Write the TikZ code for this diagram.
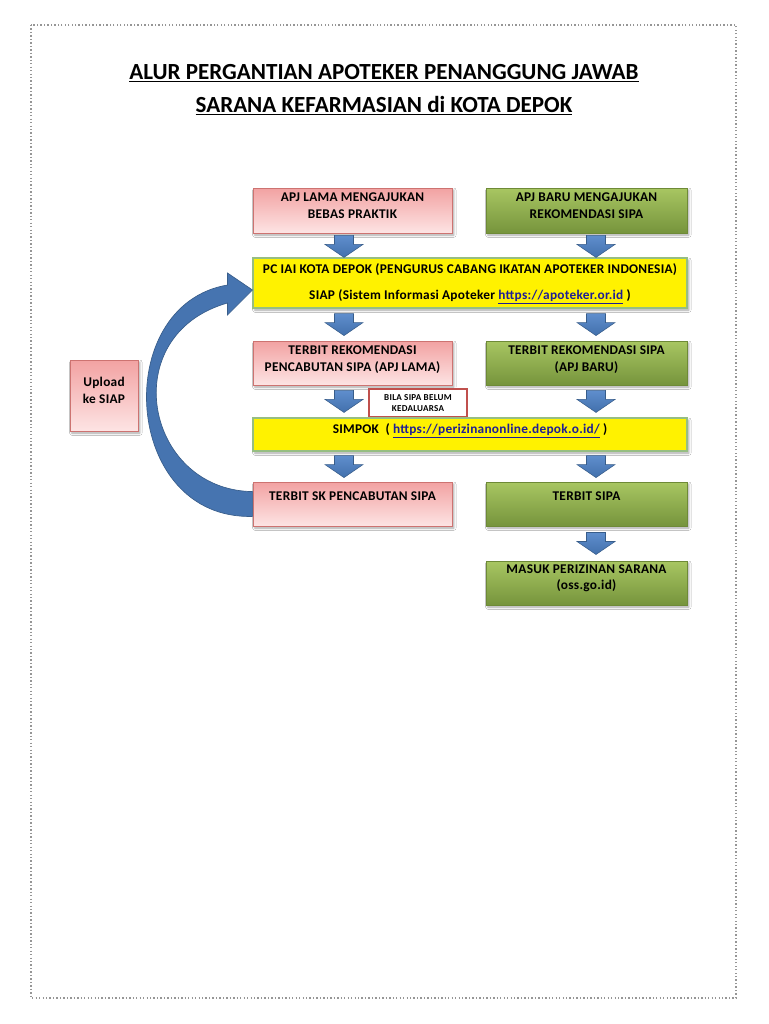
\documentclass[tikz,border=0pt]{standalone}
\usepackage{fontspec}
\setmainfont{Carlito}
\usetikzlibrary{calc,fit,shadows.blur}
\definecolor{pinkT}{RGB}{242,162,162}
\definecolor{pinkB}{RGB}{253,228,228}
\definecolor{pinkD}{RGB}{205,115,113}
\definecolor{greenT}{RGB}{168,198,98}
\definecolor{greenB}{RGB}{118,148,60}
\definecolor{greenD}{RGB}{110,138,55}
\definecolor{yelD}{RGB}{150,190,130}
\definecolor{arrT}{RGB}{95,142,205}
\definecolor{arrB}{RGB}{66,112,172}
\definecolor{arrD}{RGB}{56,93,138}
\definecolor{curvC}{RGB}{70,116,176}
\definecolor{linkC}{RGB}{30,30,150}
\definecolor{redD}{RGB}{192,80,77}
\definecolor{bordG}{RGB}{150,150,150}
\tikzset{
  shad/.style={blur shadow={shadow xshift=1.4pt,shadow yshift=-1.6pt,shadow blur radius=1.6pt,shadow opacity=35}},
  pinkbox/.style={inner sep=0pt,shad,top color=pinkT,bottom color=pinkB,draw=pinkD,line width=0.6pt},
  greenbox/.style={inner sep=0pt,shad,top color=greenT,bottom color=greenB,draw=greenD,line width=0.6pt},
  yelbox/.style={inner sep=0pt,shad,fill=yellow,draw=yelD,line width=0.8pt},
  notebox/.style={inner sep=0pt,fill=white,draw=redD,line width=1.1pt},
  btxt/.style={font=\fontsize{10}{12.5}\selectfont\bfseries\addfontfeatures{LetterSpace=2},align=center,inner sep=0pt},
  stxt/.style={font=\fontsize{6.8}{8.2}\selectfont\bfseries\addfontfeatures{LetterSpace=3},align=center,inner sep=0pt},
  ttl/.style={font=\fontsize{17.3}{20}\selectfont\bfseries,inner sep=0pt},
  darr/.pic={\path[top color=arrT,bottom color=arrB,draw=arrD,line width=0.4pt]
     (-9.5,-11) -- (9.5,-11) -- (9.5,-2) -- (19,-2) -- (0,11) -- (-19,-2) -- (-9.5,-2) -- cycle;}
}
\newcommand{\lnk}[1]{\textcolor{linkC}{\underline{#1}}}
\begin{document}
\begin{tikzpicture}[x=0.75pt,y=-0.75pt]
\useasboundingbox (0,0) rectangle (768,1024);
\fill[white] (0,0) rectangle (768,1024);
% page border
\draw[bordG,line width=1.1pt,dash pattern=on 1pt off 1.6pt] (31,25) rectangle (736,998);
% title
\node[ttl] (t1) at (384,73) {\underline{ALUR PERGANTIAN APOTEKER PENANGGUNG JAWAB}};
\node[ttl] (t2) at (384,106) {\underline{SARANA KEFARMASIAN di KOTA DEPOK}};
% boxes
\node[pinkbox,fit={(253,188)(452,233)}] (a) {};
\node[greenbox,fit={(486,188)(687,233)}] (b) {};
\node[yelbox,fit={(253,258)(687,308)}] (p) {};
\node[pinkbox,fit={(253,341)(452,385)}] (c) {};
\node[greenbox,fit={(486,341)(687,385)}] (d) {};
\node[notebox,fit={(369,389)(467,417)}] (k) {};
\node[yelbox,fit={(253,418)(687,451)}] (s) {};
\node[pinkbox,fit={(253,482)(452,526)}] (e) {};
\node[greenbox,fit={(486,482)(687,526)}] (f) {};
\node[greenbox,fit={(486,561)(687,605)}] (g) {};
\node[pinkbox,fit={(70,360)(138,431)}] (u) {};
% texts
\node[btxt] (ta) at ($(a.north)+(0,18)$) {APJ LAMA MENGAJUKAN\\BEBAS PRAKTIK};
\node[btxt] (tb) at ($(b.north)+(0,18)$) {APJ BARU MENGAJUKAN\\REKOMENDASI SIPA};
\node[btxt] (tp) at ($(p.north)+(0,26)$) {PC IAI KOTA DEPOK (PENGURUS CABANG IKATAN APOTEKER INDONESIA)\\[7pt]
  SIAP (Sistem Informasi Apoteker \lnk{https://apoteker.or.id} )};
\node[btxt] (tc) at ($(c.north)+(0,19)$) {TERBIT REKOMENDASI\\PENCABUTAN SIPA (APJ LAMA)};
\node[btxt] (td) at ($(d.north)+(0,19)$) {TERBIT REKOMENDASI SIPA\\(APJ BARU)};
\node[stxt] (tk) at (k.center) {BILA SIPA BELUM\\KEDALUARSA};
\node[btxt] (ts) at ($(s.north)+(0,13)$) {SIMPOK\ \ ( \lnk{https://perizinanonline.depok.o.id/} )};
\node[btxt] (te) at ($(e.north)+(0,15)$) {TERBIT SK PENCABUTAN SIPA};
\node[btxt] (tf) at ($(f.north)+(0,15)$) {TERBIT SIPA};
\node[btxt] (tg) at ($(g.north)+(0,17.5)$) {MASUK PERIZINAN SARANA\\(oss.go.id)};
\node[btxt] (tu) at ($(u.center)+(0,-5)$) {Upload\\ke SIAP};
% block arrows
\pic at ($(a.south)!.5!(a.south|-p.north)+(-8.5,1)$) {darr};
\pic at ($(b.south)!.5!(b.south|-p.north)+(9.5,1)$) {darr};
\pic at ($(p.south-|c.north)!.5!(c.north)+(-8.5,0)$) {darr};
\pic at ($(p.south-|d.north)!.5!(d.north)+(9.5,0)$) {darr};
\pic at ($(c.south)!.5!(c.south|-s.north)+(-8.5,0)$) {darr};
\pic at ($(d.south)!.5!(d.south|-s.north)+(9.5,0)$) {darr};
\pic at ($(s.south-|e.north)!.5!(e.north)+(-8.5,0)$) {darr};
\pic at ($(s.south-|f.north)!.5!(f.north)+(9.5,0)$) {darr};
\pic at ($(f.south)!.5!(g.north)+(9.5,0)$) {darr};
% curved arrow from e back to p
\coordinate (ci) at ($(e.north west)+(0,10)$);
\coordinate (co) at ($(e.south west)+(0,-10)$);
\coordinate (tip) at ($(p.west)+(0,7)$);
\fill[curvC,draw=arrD,line width=0.5pt]
  (ci) .. controls (145,490) and (115,335) .. ($(tip)+(-25,13)$)
  -- ($(tip)+(-25,25)$) -- (tip) -- ($(tip)+(-25,-17)$) -- ($(tip)+(-25,-5)$)
  .. controls (110,305) and (122,520) .. (co) -- cycle;
\end{tikzpicture}
\end{document}
